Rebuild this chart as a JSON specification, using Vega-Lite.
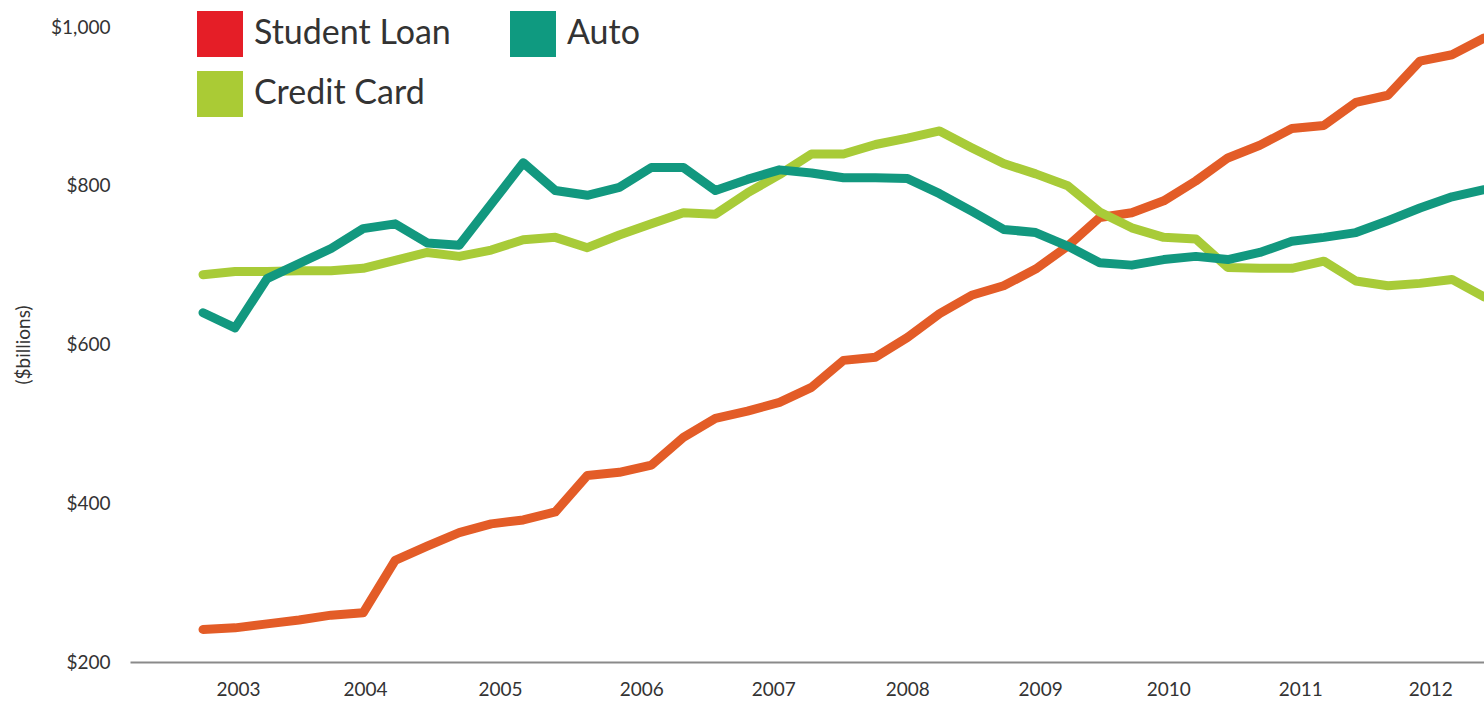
{
  "$schema": "https://vega.github.io/schema/vega-lite/v6.json",
  "width": 1354,
  "height": 635,
  "autosize": {"type": "none"},
  "padding": {"left": 130, "top": 27, "right": 0, "bottom": 48},
  "background": "white",
  "config": {
    "view": {"stroke": null},
    "font": "Lato",
    "axis": {"labelFont": "Lato", "titleFont": "Lato", "labelColor": "#333333", "titleColor": "#333333"},
    "legend": {"labelFont": "Lato"}
  },
  "data": {
    "values": [
      {"s": "Student Loan", "t": 2003.00, "v": 241}, {"s": "Student Loan", "t": 2003.25, "v": 243},
      {"s": "Student Loan", "t": 2003.50, "v": 248}, {"s": "Student Loan", "t": 2003.75, "v": 253},
      {"s": "Student Loan", "t": 2004.00, "v": 259}, {"s": "Student Loan", "t": 2004.25, "v": 262},
      {"s": "Student Loan", "t": 2004.50, "v": 328}, {"s": "Student Loan", "t": 2004.75, "v": 346},
      {"s": "Student Loan", "t": 2005.00, "v": 363}, {"s": "Student Loan", "t": 2005.25, "v": 374},
      {"s": "Student Loan", "t": 2005.50, "v": 379}, {"s": "Student Loan", "t": 2005.75, "v": 389},
      {"s": "Student Loan", "t": 2006.00, "v": 435}, {"s": "Student Loan", "t": 2006.25, "v": 439},
      {"s": "Student Loan", "t": 2006.50, "v": 448}, {"s": "Student Loan", "t": 2006.75, "v": 483},
      {"s": "Student Loan", "t": 2007.00, "v": 507}, {"s": "Student Loan", "t": 2007.25, "v": 516},
      {"s": "Student Loan", "t": 2007.50, "v": 527}, {"s": "Student Loan", "t": 2007.75, "v": 546},
      {"s": "Student Loan", "t": 2008.00, "v": 580}, {"s": "Student Loan", "t": 2008.25, "v": 584},
      {"s": "Student Loan", "t": 2008.50, "v": 609}, {"s": "Student Loan", "t": 2008.75, "v": 639},
      {"s": "Student Loan", "t": 2009.00, "v": 662}, {"s": "Student Loan", "t": 2009.25, "v": 674},
      {"s": "Student Loan", "t": 2009.50, "v": 695}, {"s": "Student Loan", "t": 2009.75, "v": 724},
      {"s": "Student Loan", "t": 2010.00, "v": 760}, {"s": "Student Loan", "t": 2010.25, "v": 766},
      {"s": "Student Loan", "t": 2010.50, "v": 781}, {"s": "Student Loan", "t": 2010.75, "v": 806},
      {"s": "Student Loan", "t": 2011.00, "v": 835}, {"s": "Student Loan", "t": 2011.25, "v": 851},
      {"s": "Student Loan", "t": 2011.50, "v": 872}, {"s": "Student Loan", "t": 2011.75, "v": 876},
      {"s": "Student Loan", "t": 2012.00, "v": 905}, {"s": "Student Loan", "t": 2012.25, "v": 914},
      {"s": "Student Loan", "t": 2012.50, "v": 957}, {"s": "Student Loan", "t": 2012.75, "v": 965},
      {"s": "Student Loan", "t": 2013.00, "v": 986},

      {"s": "Credit Card", "t": 2003.00, "v": 688}, {"s": "Credit Card", "t": 2003.25, "v": 692},
      {"s": "Credit Card", "t": 2003.50, "v": 692}, {"s": "Credit Card", "t": 2003.75, "v": 693},
      {"s": "Credit Card", "t": 2004.00, "v": 693}, {"s": "Credit Card", "t": 2004.25, "v": 696},
      {"s": "Credit Card", "t": 2004.50, "v": 706}, {"s": "Credit Card", "t": 2004.75, "v": 716},
      {"s": "Credit Card", "t": 2005.00, "v": 711}, {"s": "Credit Card", "t": 2005.25, "v": 719},
      {"s": "Credit Card", "t": 2005.50, "v": 732}, {"s": "Credit Card", "t": 2005.75, "v": 735},
      {"s": "Credit Card", "t": 2006.00, "v": 722}, {"s": "Credit Card", "t": 2006.25, "v": 738},
      {"s": "Credit Card", "t": 2006.50, "v": 752}, {"s": "Credit Card", "t": 2006.75, "v": 766},
      {"s": "Credit Card", "t": 2007.00, "v": 764}, {"s": "Credit Card", "t": 2007.25, "v": 791},
      {"s": "Credit Card", "t": 2007.50, "v": 814}, {"s": "Credit Card", "t": 2007.75, "v": 840},
      {"s": "Credit Card", "t": 2008.00, "v": 840}, {"s": "Credit Card", "t": 2008.25, "v": 852},
      {"s": "Credit Card", "t": 2008.50, "v": 860}, {"s": "Credit Card", "t": 2008.75, "v": 869},
      {"s": "Credit Card", "t": 2009.00, "v": 848}, {"s": "Credit Card", "t": 2009.25, "v": 828},
      {"s": "Credit Card", "t": 2009.50, "v": 815}, {"s": "Credit Card", "t": 2009.75, "v": 800},
      {"s": "Credit Card", "t": 2010.00, "v": 767}, {"s": "Credit Card", "t": 2010.25, "v": 747},
      {"s": "Credit Card", "t": 2010.50, "v": 735}, {"s": "Credit Card", "t": 2010.75, "v": 733},
      {"s": "Credit Card", "t": 2011.00, "v": 697}, {"s": "Credit Card", "t": 2011.25, "v": 696},
      {"s": "Credit Card", "t": 2011.50, "v": 696}, {"s": "Credit Card", "t": 2011.75, "v": 705},
      {"s": "Credit Card", "t": 2012.00, "v": 680}, {"s": "Credit Card", "t": 2012.25, "v": 674},
      {"s": "Credit Card", "t": 2012.50, "v": 677}, {"s": "Credit Card", "t": 2012.75, "v": 682},
      {"s": "Credit Card", "t": 2013.00, "v": 660},

      {"s": "Auto", "t": 2003.00, "v": 640}, {"s": "Auto", "t": 2003.25, "v": 621},
      {"s": "Auto", "t": 2003.50, "v": 683}, {"s": "Auto", "t": 2003.75, "v": 702},
      {"s": "Auto", "t": 2004.00, "v": 721}, {"s": "Auto", "t": 2004.25, "v": 746},
      {"s": "Auto", "t": 2004.50, "v": 752}, {"s": "Auto", "t": 2004.75, "v": 728},
      {"s": "Auto", "t": 2005.00, "v": 725}, {"s": "Auto", "t": 2005.25, "v": 777},
      {"s": "Auto", "t": 2005.50, "v": 829}, {"s": "Auto", "t": 2005.75, "v": 794},
      {"s": "Auto", "t": 2006.00, "v": 788}, {"s": "Auto", "t": 2006.25, "v": 798},
      {"s": "Auto", "t": 2006.50, "v": 823}, {"s": "Auto", "t": 2006.75, "v": 823},
      {"s": "Auto", "t": 2007.00, "v": 794}, {"s": "Auto", "t": 2007.25, "v": 808},
      {"s": "Auto", "t": 2007.50, "v": 820}, {"s": "Auto", "t": 2007.75, "v": 816},
      {"s": "Auto", "t": 2008.00, "v": 810}, {"s": "Auto", "t": 2008.25, "v": 810},
      {"s": "Auto", "t": 2008.50, "v": 809}, {"s": "Auto", "t": 2008.75, "v": 790},
      {"s": "Auto", "t": 2009.00, "v": 768}, {"s": "Auto", "t": 2009.25, "v": 745},
      {"s": "Auto", "t": 2009.50, "v": 741}, {"s": "Auto", "t": 2009.75, "v": 724},
      {"s": "Auto", "t": 2010.00, "v": 703}, {"s": "Auto", "t": 2010.25, "v": 700},
      {"s": "Auto", "t": 2010.50, "v": 707}, {"s": "Auto", "t": 2010.75, "v": 711},
      {"s": "Auto", "t": 2011.00, "v": 707}, {"s": "Auto", "t": 2011.25, "v": 716},
      {"s": "Auto", "t": 2011.50, "v": 730}, {"s": "Auto", "t": 2011.75, "v": 735},
      {"s": "Auto", "t": 2012.00, "v": 741}, {"s": "Auto", "t": 2012.25, "v": 756},
      {"s": "Auto", "t": 2012.50, "v": 772}, {"s": "Auto", "t": 2012.75, "v": 786},
      {"s": "Auto", "t": 2013.00, "v": 795}
    ]
  },
  "encoding": {
    "x": {
      "field": "t", "type": "quantitative",
      "scale": {"domain": [2002.43, 2013.0], "nice": false, "zero": false},
      "axis": {
        "title": null,
        "values": [2003.273, 2004.265, 2005.319, 2006.421, 2007.451, 2008.497, 2009.535, 2010.535, 2011.565, 2012.58],
        "labelExpr": "floor(datum.value) + ''",
        "ticks": false, "grid": false,
        "domainColor": "#8a8a8a", "domainWidth": 2,
        "labelFontSize": 19, "labelPadding": 18, "labelFlush": false
      }
    },
    "y": {
      "field": "v", "type": "quantitative",
      "scale": {"domain": [200, 1000], "nice": false, "zero": false},
      "axis": {
        "title": "($billions)",
        "values": [200, 400, 600, 800, 1000],
        "format": "$,.0f",
        "ticks": false, "grid": false, "domain": false,
        "labelFontSize": 19, "labelPadding": 20,
        "titleFontSize": 19, "titleFontWeight": "normal", "titleX": -97
      }
    }
  },
  "layer": [
    {
      "mark": {"type": "square", "size": 4, "opacity": 1},
      "encoding": {
        "fill": {
          "field": "s", "type": "nominal",
          "scale": {"domain": ["Student Loan", "Auto", "Credit Card"], "range": ["#e51e27", "#0f9a80", "#aacb35"]},
          "legend": {
            "title": null, "orient": "none", "legendX": 67, "legendY": -16,
            "direction": "horizontal", "columns": 2,
            "symbolType": "square", "symbolSize": 2116, "symbolStrokeWidth": 0, "symbolOpacity": 1,
            "labelFontSize": 34, "labelColor": "#333333", "labelOffset": 11, "labelLimit": 0,
            "rowPadding": 14, "columnPadding": 59, "padding": 0
          }
        }
      }
    },
    {
      "mark": {"type": "line", "strokeWidth": 9, "strokeCap": "round", "strokeJoin": "round"},
      "encoding": {
        "stroke": {
          "field": "s", "type": "nominal",
          "scale": {"domain": ["Student Loan", "Auto", "Credit Card"], "range": ["#e35c27", "#12987f", "#a8cb38"]},
          "legend": null
        }
      }
    }
  ]
}
